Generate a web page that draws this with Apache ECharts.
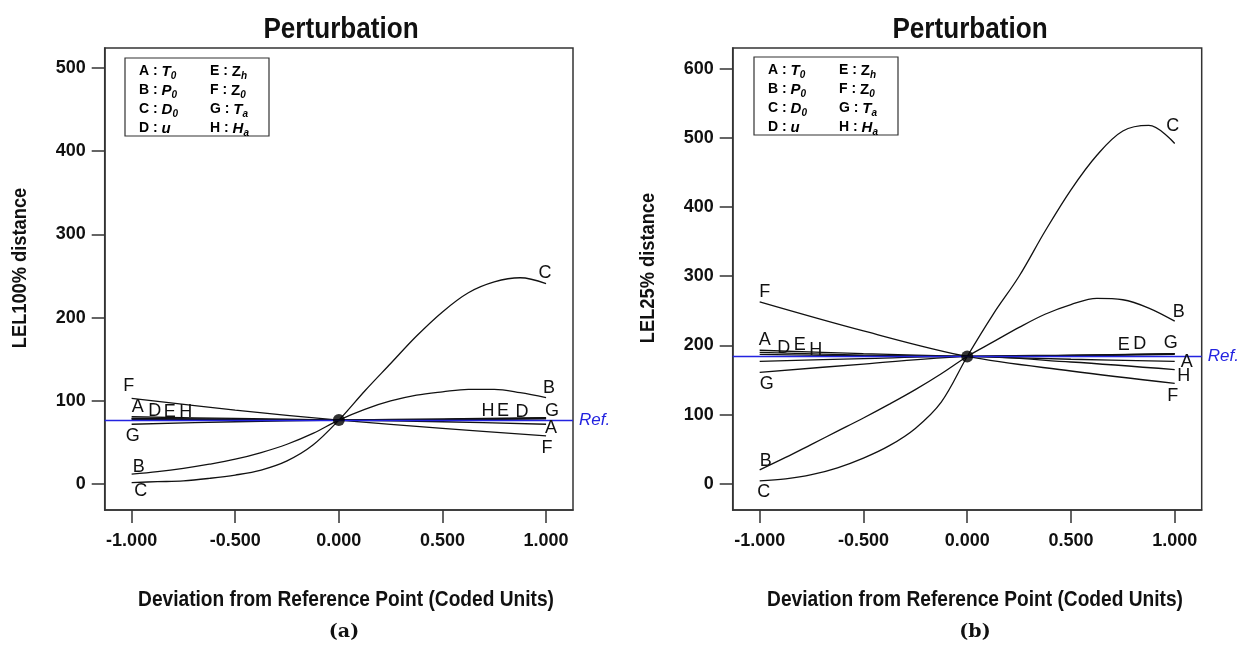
<!DOCTYPE html>
<html>
<head>
<meta charset="utf-8">
<script src="https://cdn.jsdelivr.net/npm/echarts@6/dist/echarts.min.js"></script>
<style>html,body{margin:0;padding:0;background:#fff}#c{width:1237px;height:648px}</style>
</head>
<body>
<div id="c"></div>
<script>
// ---------------- DATA ----------------
const X_FINE = [-1, -0.875, -0.75, -0.625, -0.5, -0.375, -0.25, -0.125, 0, 0.125, 0.25, 0.375, 0.5, 0.625, 0.75, 0.875, 1];
const X_COARSE = [-1, -0.5, 0, 0.5, 1];
const X_TICKS = [-1, -0.5, 0, 0.5, 1];
const Y_TICKS_A = [0, 100, 200, 300, 400, 500];
const Y_TICKS_B = [0, 100, 200, 300, 400, 500, 600];
const FACTORS = ['A', 'B', 'C', 'D', 'E', 'F', 'G', 'H'];
const TITLE = 'Perturbation';
const X_NAME = 'Deviation from Reference Point (Coded Units)';
const Y_NAME_A = 'LEL100% distance';
const Y_NAME_B = 'LEL25% distance';

// (a) LEL100% distance
const REF_A = 77;
const A_C = [2, 3, 4, 7, 11, 17, 28, 47, 77, 112, 145, 178, 207, 230, 243, 248, 241];
const A_B = [12, 15, 19, 24, 30, 38, 48, 61, 77, 90, 100, 107, 111, 114, 114, 110, 104];
const A_F = [103, 89, 77, 67, 58];
const A_A = [81, 79, 77, 75, 72];
const A_D = [79, 78, 77, 77.5, 78.5];
const A_E = [78.5, 77.5, 77, 77.5, 79];
const A_H = [78, 77.5, 77, 77.5, 79.5];
const A_G = [72, 75, 77, 78.5, 80];

// (b) LEL25% distance
const REF_B = 184;
const B_C = [4, 7, 13, 23, 37, 55, 80, 118, 184, 245, 300, 365, 425, 475, 510, 518, 492];
const B_B = [20, 38, 57, 76, 95, 115, 136, 159, 184, 205, 226, 245, 259, 268, 266, 254, 235];
const B_F = [263, 221, 184, 163, 145];
const B_A = [193, 188, 184, 180, 177];
const B_D = [190, 186, 184, 185, 187];
const B_E = [187, 185, 184, 185.5, 188];
const B_H = [177, 181, 184, 176, 165];
const B_G = [161, 173, 184, 186, 188];

// ---------------- STYLE ----------------
const SANS = '"Liberation Sans",Arial,sans-serif';
const REF_COLOR = '#2323e0';
const SQUEEZE = 0.87; // reference text is horizontally condensed
// label offsets (pixels) for curve letters at the start (x=-1) and end (x=1)
const OFF_A = {
  A: [[6, -10], [5, 4]], B: [[7, -7], [3, -10]], C: [[9, 9], [-1, -11]], D: [[23, -7], [-24, -7]],
  E: [[38, -7], [-43, -7]], F: [[-3, -12], [1, 12]], G: [[1, 12], [6, -7]], H: [[54, -7], [-58, -7]]
};
const OFF_B = {
  A: [[5, -10], [12, 1]], B: [[6, -9], [4, -9]], C: [[4, 11], [-2, -17]], D: [[24, -4], [-35, -10]],
  E: [[40, -9], [-51, -9]], F: [[5, -10], [-2, 13]], G: [[7, 12], [-4, -11]], H: [[56, -11], [9, 6]]
};

const SET_A = { A: A_A, B: A_B, C: A_C, D: A_D, E: A_E, F: A_F, G: A_G, H: A_H };
const SET_B = { A: B_A, B: B_B, C: B_C, D: B_D, E: B_E, F: B_F, G: B_G, H: B_H };

function pair(xs, ys) { return xs.map((x, i) => [x, ys[i]]); }

function curveSeries(idx, set, offs) {
  return FACTORS.map(k => {
    const ys = set[k];
    const xs = ys.length === X_FINE.length ? X_FINE : X_COARSE;
    const data = pair(xs, ys);
    const first = data[0], last = data[data.length - 1];
    const lab = (off) => ({ show: true, formatter: k, offset: off, color: '#111', fontSize: 18, fontFamily: SANS, position: 'inside' });
    return {
      type: 'line', name: k, xAxisIndex: idx, yAxisIndex: idx, data: data,
      smooth: 0.35, showSymbol: false, symbol: 'none', silent: true,
      lineStyle: { color: '#111', width: 1.3 }, z: 3,
      markPoint: {
        symbol: 'circle', symbolSize: 0, silent: true, animation: false,
        data: [
          { coord: first, label: lab(offs[k][0]) },
          { coord: last, label: lab(offs[k][1]) }
        ]
      }
    };
  });
}

function refSeries(idx, ref) {
  return {
    type: 'scatter', xAxisIndex: idx, yAxisIndex: idx, data: [[0, ref]],
    symbolSize: 12, itemStyle: { color: '#000' }, z: 6, silent: true,
    markLine: {
      symbol: 'none', silent: true, animation: false,
      lineStyle: { color: REF_COLOR, width: 1.3, type: 'solid' },
      label: { show: true, position: 'end', formatter: 'Ref.', color: REF_COLOR, fontStyle: 'italic', fontSize: 17, fontFamily: SANS, distance: 6 },
      data: [{ yAxis: ref }]
    }
  };
}

function xAxis(idx) {
  return {
    type: 'value', gridIndex: idx, min: -1.13, max: 1.13,
    axisLine: { show: true, onZero: false, lineStyle: { color: '#333', width: 1.5 } },
    axisTick: { show: true, inside: false, length: 13, lineStyle: { color: '#333', width: 1.5 }, customValues: X_TICKS },
    axisLabel: { customValues: X_TICKS, formatter: v => v.toFixed(3), margin: 22, fontFamily: SANS, fontWeight: 'bold', fontSize: 18, color: '#111' },
    splitLine: { show: false }
  };
}
function yAxis(idx, min, max, ticks) {
  return {
    type: 'value', gridIndex: idx, min: min, max: max,
    axisLine: { show: true, onZero: false, lineStyle: { color: '#333', width: 1.5 } },
    axisTick: { show: true, inside: false, length: 13, lineStyle: { color: '#333', width: 1.5 }, customValues: ticks },
    axisLabel: { customValues: ticks, margin: 19, fontFamily: SANS, fontWeight: 'bold', fontSize: 18, color: '#111' },
    splitLine: { show: false }
  };
}

function legendBox(x, y) {
  const rich = {
    n: { fontFamily: SANS, fontWeight: 'bold', fontSize: 14, lineHeight: 19, color: '#111' },
    v: { fontFamily: SANS, fontWeight: 'bold', fontStyle: 'italic', fontSize: 15, lineHeight: 19, color: '#111' },
    u: { fontFamily: SANS, fontWeight: 'bold', fontSize: 15, lineHeight: 19, color: '#111' },
    s: { fontFamily: SANS, fontWeight: 'bold', fontStyle: 'italic', fontSize: 10, lineHeight: 19, verticalAlign: 'bottom', padding: [6, 0, 0, 0], color: '#111' }
  };
  const col1 = '{n|A : }{v|T}{s|0}\n{n|B : }{v|P}{s|0}\n{n|C : }{v|D}{s|0}\n{n|D : }{v|u}';
  const col2 = '{n|E : }{u|Z}{s|h}\n{n|F : }{u|Z}{s|0}\n{n|G : }{v|T}{s|a}\n{n|H : }{v|H}{s|a}';
  return [
    { type: 'rect', shape: { x: x, y: y, width: 144, height: 78 }, style: { fill: '#fff', stroke: '#333', lineWidth: 1.2 }, z: 10 },
    { type: 'text', x: x + 14, y: y + 4, style: { text: col1, rich: rich }, z: 11 },
    { type: 'text', x: x + 85, y: y + 4, style: { text: col2, rich: rich }, z: 11 }
  ];
}

function squeezedText(text, x, y, size, rot) {
  return {
    type: 'text', x: x, y: y, rotation: rot || 0, scaleX: SQUEEZE,
    style: { text: text, fontFamily: SANS, fontWeight: 'bold', fontSize: size, fill: '#111', align: 'center', verticalAlign: 'middle' }
  };
}

const chart = echarts.init(document.getElementById('c'), null, { renderer: 'canvas' });
chart.setOption({
  animation: false,
  backgroundColor: '#fff',
  grid: [
    { left: 104.7, top: 48, width: 468.3, height: 462, show: true, borderColor: '#333', borderWidth: 1.5, containLabel: false },
    { left: 732.7, top: 48, width: 469, height: 462, show: true, borderColor: '#333', borderWidth: 1.5, containLabel: false }
  ],
  xAxis: [xAxis(0), xAxis(1)],
  yAxis: [yAxis(0, -31, 524, Y_TICKS_A), yAxis(1, -38, 630, Y_TICKS_B)],
  series: [].concat(curveSeries(0, SET_A, OFF_A), [refSeries(0, REF_A)], curveSeries(1, SET_B, OFF_B), [refSeries(1, REF_B)]),
  graphic: [].concat(
    legendBox(125, 58),
    legendBox(754, 57),
    [
      squeezedText(TITLE, 341, 30, 30),
      squeezedText(TITLE, 970, 30, 30),
      squeezedText(X_NAME, 346, 600, 22),
      squeezedText(X_NAME, 975, 600, 22),
      squeezedText(Y_NAME_A, 20, 268, 21, Math.PI / 2),
      squeezedText(Y_NAME_B, 648, 268, 21, Math.PI / 2),
      { type: 'text', x: 344, y: 632, style: { text: '(a)', fontFamily: '"DejaVu Serif","Liberation Serif",serif', fontWeight: 'bold', fontSize: 19, fill: '#111', align: 'center', verticalAlign: 'middle' } },
      { type: 'text', x: 975, y: 632, style: { text: '(b)', fontFamily: '"DejaVu Serif","Liberation Serif",serif', fontWeight: 'bold', fontSize: 19, fill: '#111', align: 'center', verticalAlign: 'middle' } }
    ]
  )
});
</script>
</body>
</html>
